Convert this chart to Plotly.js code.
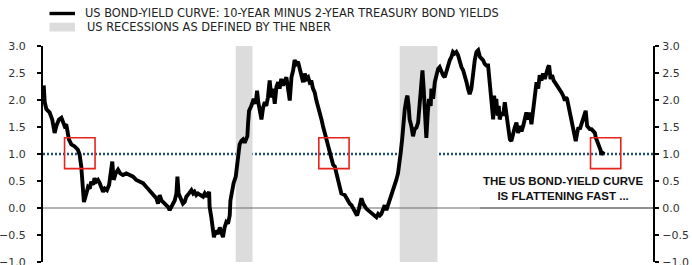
<!DOCTYPE html>
<html><head><meta charset="utf-8">
<script src="https://cdn.plot.ly/plotly-3.0.1.min.js"></script>
<style>html,body{margin:0;padding:0;background:#fff}#chart{width:692px;height:265px}</style>
</head><body><div id="chart"></div>
<script>
// Decimal years and 10Y-2Y spread in percentage points
const years = [
1993.24,1993.28,1993.35,1993.48,1993.59,1993.69,1993.76,1993.87,1993.97,1994.03,
1994.10,1994.17,1994.24,1994.28,1994.38,1994.52,1994.65,1994.72,1994.79,1994.83,
1994.90,1995.00,1995.07,1995.14,1995.20,1995.27,1995.34,1995.41,1995.48,1995.55,
1995.62,1995.69,1995.76,1995.85,1995.94,1995.99,1996.07,1996.13,1996.21,1996.31,
1996.40,1996.51,1996.65,1996.79,1996.93,1997.06,1997.20,1997.34,1997.48,1997.61,
1997.75,1997.89,1997.96,1998.03,1998.10,1998.23,1998.37,1998.44,1998.51,1998.58,
1998.65,1998.72,1998.76,1998.81,
1998.92,1998.99,1999.06,1999.13,1999.24,1999.34,1999.41,1999.47,1999.54,1999.61,
1999.71,1999.82,1999.89,1999.98,2000.07,2000.09,2000.16,2000.23,2000.27,2000.34,
2000.44,2000.51,2000.58,2000.64,2000.71,2000.78,2000.85,2000.92,2000.95,2001.02,
2001.08,2001.17,2001.22,2001.26,2001.33,2001.40,2001.47,2001.54,2001.61,2001.65,
2001.68,2001.72,2001.81,2001.91,2001.99,2002.05,2002.10,2002.16,2002.23,2002.30,
2002.37,2002.43,2002.50,2002.57,2002.64,2002.71,2002.78,2002.85,2002.92,2002.98,
2003.05,2003.12,2003.19,2003.26,2003.33,2003.40,2003.47,2003.54,2003.60,2003.67,
2003.74,2003.81,2003.88,2003.95,2004.02,2004.09,2004.16,2004.22,2004.29,2004.36,
2004.43,2004.50,2004.57,2004.64,2004.71,2004.77,2004.84,2004.91,2004.98,2005.05,
2005.12,2005.19,2005.26,2005.33,2005.39,2005.46,
2005.53,2005.67,2005.74,2005.81,2005.88,2005.95,2006.01,2006.08,2006.18,2006.26,
2006.36,2006.43,2006.50,2006.56,2006.63,2006.73,2006.81,2006.91,2006.98,2007.05,
2007.12,2007.18,2007.25,2007.32,2007.39,2007.46,2007.53,2007.60,2007.67,2007.73,
2007.80,2007.87,2007.94,2007.98,2008.04,2008.08,2008.15,2008.22,2008.26,2008.31,
2008.35,2008.42,2008.49,2008.56,2008.63,2008.70,2008.77,2008.84,2008.88,2008.93,
2009.00,2009.04,2009.10,2009.15,2009.22,2009.25,2009.32,2009.39,2009.46,2009.53,
2009.59,2009.66,2009.73,2009.80,2009.87,2009.94,2010.01,2010.08,2010.14,2010.21,
2010.28,2010.35,2010.42,2010.49,2010.56,2010.63,2010.70,2010.76,2010.83,2010.90,
2010.97,2011.04,2011.11,2011.18,2011.25,2011.31,2011.38,2011.45,2011.52,
2011.59,2011.66,2011.70,2011.76,2011.80,2011.84,2011.89,2011.93,2011.98,2012.03,
2012.07,2012.14,2012.21,2012.28,2012.35,2012.42,2012.49,2012.55,2012.62,2012.69,
2012.76,2012.83,2012.90,2012.97,2013.04,2013.11,2013.17,2013.24,2013.31,2013.38,
2013.45,2013.52,2013.59,2013.66,2013.72,2013.79,2013.86,2013.93,2014.00,2014.07,
2014.11,2014.17,2014.23,2014.30,2014.39,2014.48,2014.55,2014.62,2014.69,2014.76,
2014.80,2014.85,2014.91,2014.96,2015.03,2015.10,2015.17,2015.21,2015.27,2015.32,
2015.38,2015.45,2015.51,2015.58,2015.62,2015.68,2015.72,2015.79,2015.86,2015.93,
2016.00,2016.04,2016.09,2016.13,2016.18,2016.23,2016.27,2016.31,2016.37
];
const spread = [
2.27,1.96,1.83,1.77,1.64,1.39,1.52,1.64,1.67,1.61,
1.52,1.55,1.39,1.27,1.18,1.14,1.08,0.99,0.77,0.39,
0.11,0.27,0.39,0.36,0.49,0.43,0.55,0.49,0.52,0.46,
0.39,0.30,0.36,0.33,0.43,0.64,0.86,0.52,0.64,0.71,
0.64,0.61,0.64,0.61,0.58,0.52,0.49,0.46,0.39,0.33,
0.27,0.18,0.08,0.24,0.14,0.08,0.02,-0.04,0.02,0.05,
0.14,0.27,0.58,0.27,
0.14,0.08,0.11,0.21,0.27,0.33,0.27,0.30,0.24,0.27,
0.24,0.21,0.27,0.21,0.30,0.02,-0.17,-0.36,-0.54,-0.42,
-0.48,-0.36,-0.45,-0.54,-0.36,-0.26,-0.29,-0.14,0.14,0.33,
0.46,0.58,0.77,1.02,1.18,1.24,1.27,1.21,1.27,1.33,
1.58,1.80,1.89,2.02,1.93,2.17,1.96,1.80,1.64,1.86,
1.96,1.89,2.05,2.36,2.05,2.21,1.93,2.24,2.33,2.21,
2.39,2.27,2.33,2.42,2.21,1.99,2.42,2.55,2.74,2.67,
2.71,2.55,2.46,2.33,2.49,2.39,2.42,2.33,2.36,2.21,
2.14,1.99,1.89,1.77,1.64,1.52,1.39,1.27,1.14,1.02,
0.89,0.80,0.77,0.64,0.46,0.33,
0.27,0.24,0.18,0.14,0.08,0.05,-0.01,-0.04,-0.14,-0.01,
0.18,0.08,0.02,-0.01,-0.04,-0.08,-0.11,-0.14,-0.17,-0.11,
-0.14,-0.11,-0.01,0.05,-0.04,0.05,0.14,0.21,0.30,0.39,
0.52,0.64,0.83,1.02,1.27,1.58,1.83,2.02,2.08,1.89,
1.64,1.52,1.33,1.46,1.49,1.58,2.02,2.46,2.55,2.21,
1.58,1.30,1.77,2.02,1.89,2.21,2.02,2.33,2.46,2.58,
2.61,2.52,2.46,2.42,2.55,2.64,2.74,2.80,2.89,2.86,
2.89,2.83,2.71,2.61,2.55,2.46,2.33,2.21,2.11,2.21,
2.52,2.74,2.89,2.92,2.80,2.77,2.74,2.67,2.64,
2.64,2.33,2.02,1.77,1.64,2.08,1.83,2.02,1.71,1.89,
1.64,1.77,1.71,1.96,1.71,1.46,1.27,1.24,1.39,1.49,
1.58,1.39,1.52,1.42,1.52,1.64,1.77,1.64,1.77,1.55,
1.83,2.14,2.33,2.21,2.46,2.36,2.49,2.39,2.52,2.61,
2.64,2.39,2.46,2.36,2.30,2.24,2.21,2.14,2.08,1.99,
2.05,2.02,1.89,1.77,1.58,1.46,1.27,1.24,1.39,1.49,
1.46,1.55,1.64,1.74,1.80,1.52,1.49,1.46,1.46,1.42,
1.39,1.30,1.24,1.21,1.14,1.08,0.99,1.02,1.05
];
const recessionStart = [2001.17, 2007.94];
const recessionEnd   = [2001.86, 2009.50];
const boxStart = [1994.10, 2004.60, 2015.82];
const boxEnd   = [1995.36, 2005.85, 2017.07];
const boxLow = 0.73, boxHigh = 1.30;
const refLevel = 1.0;
const yTicks = [-1, -0.5, 0, 0.5, 1, 1.5, 2, 2.5, 3];
const xRange = [1993.21, 2018.40];
const yRange = [-1, 3];
const legendLabels = ['US BOND-YIELD CURVE: 10-YEAR MINUS 2-YEAR TREASURY BOND YIELDS', 'US RECESSIONS AS DEFINED BY THE NBER'];
const noteLines = ['THE US BOND-YIELD CURVE', 'IS FLATTENING FAST ...'];
const zeroSplit = 2011.25;

const W = 692, H = 265, M = {l: 43, r: 39, t: 46, b: 3};
const pw = W - M.l - M.r, ph = H - M.t - M.b;
const fx = p => (p - M.l) / pw;
const fy = p => (H - M.b - p) / ph;

const shapes = [];
recessionStart.forEach((s, i) => shapes.push({type: 'rect', xref: 'x', yref: 'y', x0: s, x1: recessionEnd[i], y0: yRange[0], y1: yRange[1], fillcolor: '#dcdcdc', line: {width: 0}, layer: 'below'}));
shapes.push({type: 'line', xref: 'x', yref: 'y', x0: xRange[0], x1: zeroSplit, y0: 0, y1: 0, line: {color: '#6a6a6a', width: 1.2}, layer: 'below'});
shapes.push({type: 'line', xref: 'x', yref: 'y', x0: zeroSplit, x1: xRange[1], y0: 0, y1: 0, line: {color: '#222', width: 1.2}, layer: 'below'});
shapes.push({type: 'line', xref: 'paper', yref: 'y', x0: 0, x1: 1, y0: refLevel, y1: refLevel, line: {color: '#1f4e79', width: 2.5, dash: '2px,2px'}, layer: 'below'});
boxStart.forEach((s, i) => shapes.push({type: 'rect', xref: 'x', yref: 'y', x0: s, x1: boxEnd[i], y0: boxLow, y1: boxHigh, line: {color: '#e8231c', width: 1.6}, fillcolor: 'rgba(0,0,0,0)', layer: 'above'}));
// legend keys
shapes.push({type: 'line', xref: 'paper', yref: 'paper', x0: fx(49.5), x1: fx(75), y0: fy(13.5), y1: fy(13.5), line: {color: '#000', width: 3.4}});
shapes.push({type: 'rect', xref: 'paper', yref: 'paper', x0: fx(49.5), x1: fx(75), y0: fy(31.5), y1: fy(22.7), fillcolor: '#dcdcdc', line: {width: 0}});

const annotations = [
  {xref: 'paper', yref: 'paper', x: fx(83), y: fy(13.2), xanchor: 'left', yanchor: 'middle', showarrow: false, text: legendLabels[0], font: {family: 'DejaVu Sans', size: 11.4, color: '#222'}},
  {xref: 'paper', yref: 'paper', x: fx(85), y: fy(26.5), xanchor: 'left', yanchor: 'middle', showarrow: false, text: legendLabels[1], font: {family: 'DejaVu Sans', size: 11.4, color: '#222'}},
  {xref: 'paper', yref: 'paper', x: fx(562.5), y: fy(188.4), xanchor: 'center', yanchor: 'middle', showarrow: false, align: 'center', text: noteLines.join('<br>'), font: {family: 'Liberation Sans, Arial', size: 11.5, color: '#111', weight: 'bold'}}
];

const axisCommon = {
  range: yRange, tickvals: yTicks, tickformat: '.1f', showgrid: false, zeroline: false,
  showline: true, linecolor: '#000', linewidth: 2, ticks: 'outside', ticklen: 4, tickwidth: 2, tickcolor: '#000',
  tickfont: {family: 'DejaVu Sans', size: 11, color: '#333'}, ticklabeloverflow: 'allow', fixedrange: true
};

const traces = [
  {type: 'scatter', mode: 'lines', x: years, y: spread, line: {color: '#000', width: 3.9}, hoverinfo: 'skip', showlegend: false},
  {type: 'scatter', mode: 'lines', x: [], y: [], yaxis: 'y2', showlegend: false, hoverinfo: 'skip'}
];

const layout = {
  width: W, height: H, margin: M, paper_bgcolor: '#fff', plot_bgcolor: '#fff', showlegend: false,
  xaxis: {range: xRange, visible: false, fixedrange: true},
  yaxis: Object.assign({}, axisCommon, {side: 'left', ticklabelstandoff: 9}),
  yaxis2: Object.assign({}, axisCommon, {side: 'right', overlaying: 'y', anchor: 'x', ticklabelstandoff: 1}),
  shapes: shapes, annotations: annotations
};

Plotly.newPlot('chart', traces, layout, {displayModeBar: false, staticPlot: true});
</script></body></html>
